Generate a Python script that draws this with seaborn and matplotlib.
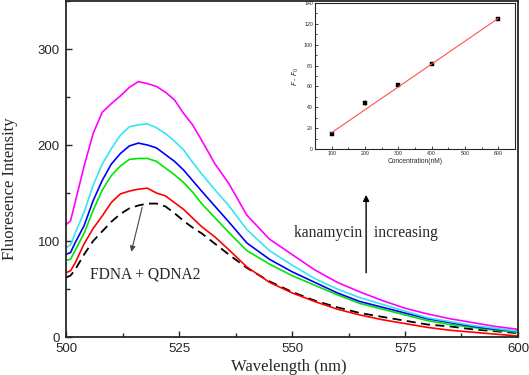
import numpy as np
import pandas as pd
import seaborn as sns
import matplotlib.pyplot as plt
from matplotlib.ticker import MultipleLocator

wavelength = [500, 501, 502, 504, 506, 508, 510, 512, 514, 516, 518, 520, 522, 524, 526, 528, 530,
              533, 536, 540, 545, 550, 555, 560, 565, 570, 575, 580, 585, 590, 595, 600]

fdna_qdna2 = [62, 64, 70, 86, 100, 110, 120, 128, 134, 137, 139, 139, 136, 129, 121, 114, 108,
              97, 86, 72, 58, 47, 38, 31, 25, 21, 17, 13, 11, 8, 6, 4]
red_curve = [67, 69, 77, 97, 113, 126, 140, 149, 152, 154, 155, 150, 147, 140, 133, 124, 115,
             104, 91, 73, 57, 46, 37, 29, 23, 18, 14, 10, 7, 5, 3, 1]
green_curve = [80, 81, 90, 108, 132, 153, 168, 178, 185, 186, 186, 183, 176, 169, 161, 151, 139,
               124, 109, 90, 76, 64, 54, 44, 35, 29, 23, 17, 13, 10, 7, 5]
blue_curve = [86, 88, 98, 116, 142, 163, 180, 191, 199, 202, 200, 197, 190, 183, 174, 163, 152,
              136, 120, 98, 81, 68, 57, 46, 37, 31, 25, 19, 15, 11, 8, 6]
cyan_curve = [93, 96, 108, 130, 158, 180, 196, 210, 219, 221, 222, 218, 212, 204, 195, 182, 170,
              153, 137, 112, 90, 75, 61, 50, 41, 34, 27, 20, 16, 12, 9, 6]
magenta_curve = [117, 121, 140, 178, 212, 234, 243, 251, 260, 266, 264, 261, 255, 247, 233, 221, 205,
                 180, 160, 127, 102, 86, 70, 57, 47, 38, 30, 24, 19, 15, 11, 8]

# inset calibration
conc = [100, 200, 300, 400, 600]
delta_f = [14.5, 44.5, 61.5, 81.5, 124.5]
delta_err = [1.0, 2.0, 1.0, 1.0, 1.0]

curves = [(red_curve, '#ff0000'), (green_curve, '#00e600'), (blue_curve, '#0000ff'),
          (cyan_curve, '#33e6f0'), (magenta_curve, '#ff00ff')]

sns.set_style("ticks")
plt.rcParams['xtick.direction'] = 'in'
plt.rcParams['ytick.direction'] = 'in'
plt.rcParams['font.family'] = ['Liberation Sans', 'DejaVu Sans']

fig = plt.figure(figsize=(5.29, 3.75), dpi=100)
ax = fig.add_axes([0.1248, 0.1013, 0.8544, 0.8960])

df = pd.DataFrame({'wl': wavelength, 'y': fdna_qdna2})
sns.lineplot(data=df, x='wl', y='y', ax=ax, color='black', lw=1.3, linestyle=(0, (5, 3)))
for vals, col in curves:
    df = pd.DataFrame({'wl': wavelength, 'y': vals})
    sns.lineplot(data=df, x='wl', y='y', ax=ax, color=col, lw=1.2)

ax.set_xlim(500, 600)
ax.set_ylim(0, 350)
ax.set_xticks([500, 525, 550, 575, 600])
ax.set_yticks([0, 100, 200, 300])
ax.xaxis.set_minor_locator(MultipleLocator(12.5))
ax.yaxis.set_minor_locator(MultipleLocator(50))
ax.tick_params(which='major', length=4, width=1, labelsize=9.5)
ax.tick_params(axis='x', which='major', pad=4.5)
ax.tick_params(axis='y', which='major', pad=4.5)
ax.tick_params(which='minor', length=3, width=1)
for s in ax.spines.values():
    s.set_linewidth(1.3)
ax.set_xlabel('Wavelength (nm)', family='Liberation Serif', fontsize=12)
ax.set_ylabel('Fluoresence Intensity', family='Liberation Serif', fontsize=12)
ax.xaxis.set_label_coords(0.493, -0.066)
ax.yaxis.set_label_coords(-0.107, 0.44)

ax.text(505.3, 65, 'FDNA + QDNA2', family='Liberation Serif', fontsize=11.2, va='center', ha='left')
ax.annotate('', xy=(514.3, 86), xytext=(517, 138),
            arrowprops=dict(arrowstyle='-|>', color='#444444', lw=0.8, mutation_scale=8))
ax.text(566.4, 108, 'kanamycin   increasing', family='Liberation Serif', fontsize=11.2,
        va='center', ha='center')
ax.annotate('', xy=(566.4, 151), xytext=(566.4, 64),
            arrowprops=dict(arrowstyle='-|>', color='black', lw=1.0, mutation_scale=9))

# inset
ins = fig.add_axes([0.5955, 0.6027, 0.378, 0.3893])
coef = np.polyfit([c for c in conc if c != 200], [d for c, d in zip(conc, delta_f) if c != 200], 1)
fit_x = np.array([conc[0], conc[-1]])
ins.plot(fit_x, np.polyval(coef, fit_x), color='#ff5050', lw=0.8)
ins.errorbar(conc, delta_f, yerr=delta_err, fmt='none', ecolor='black', elinewidth=0.6, capsize=0)
sns.scatterplot(x=conc, y=delta_f, ax=ins, marker='s', s=6, color='black', edgecolor='black', linewidth=0.3)
ins.set_xlim(50, 650)
ins.set_ylim(0, 140)
ins.set_xticks([100, 200, 300, 400, 500, 600])
ins.set_yticks(range(0, 141, 20))
ins.xaxis.set_minor_locator(MultipleLocator(50))
ins.yaxis.set_minor_locator(MultipleLocator(10))
ins.tick_params(which='major', length=2, width=0.6, labelsize=3.8, pad=1.5)
ins.tick_params(which='minor', length=1.2, width=0.6)
for s in ins.spines.values():
    s.set_linewidth(0.8)
ins.set_xlabel('Concentration(nM)', fontsize=4.8, labelpad=1.5)
ins.set_ylabel('$F$ - $F_0$', fontsize=5, labelpad=2)

fig.savefig('out.png', dpi=100)
